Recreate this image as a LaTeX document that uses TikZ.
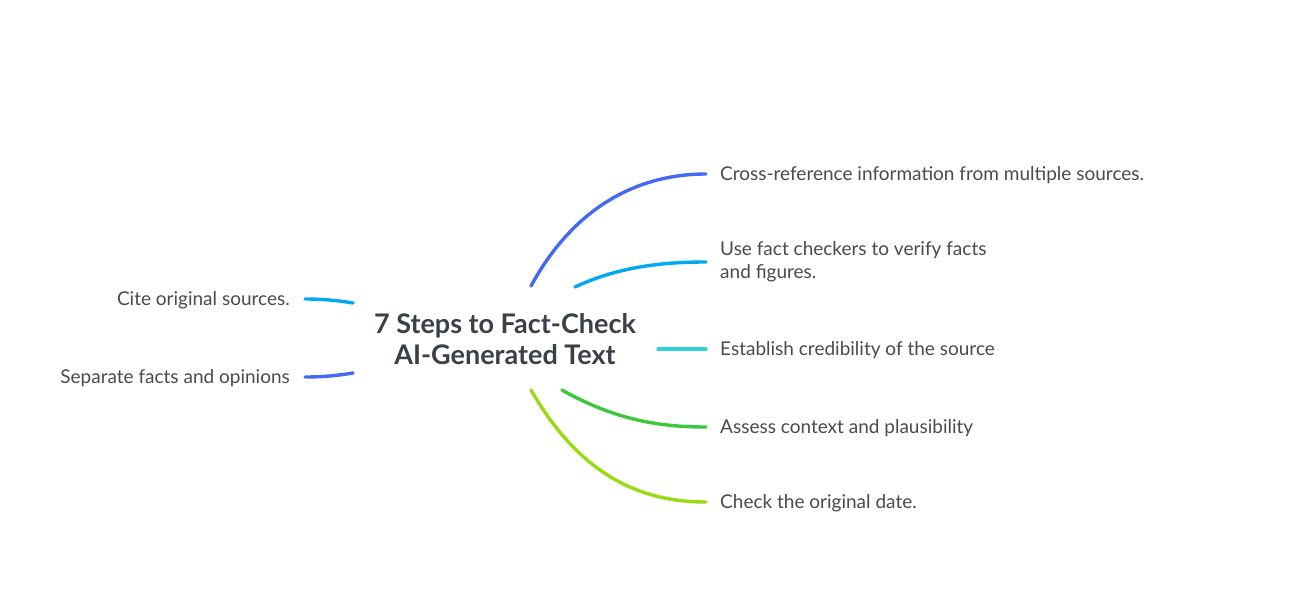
\documentclass[tikz,border=0pt]{standalone}
\usepackage{fontspec}
\setmainfont{Lato}
\usepackage{xcolor}
\definecolor{StepText}{HTML}{4A4A4A}
\definecolor{StepTitle}{HTML}{3B3F47}
\definecolor{StepBlue}{HTML}{4469F2}
\definecolor{StepSky}{HTML}{00A9F4}
\definecolor{StepCyan}{HTML}{2ED3D8}
\definecolor{StepGreen}{HTML}{3CC83C}
\definecolor{StepLime}{HTML}{98DB12}
\tikzset{
  steplabel/.style={text=StepText, font=\fontsize{19pt}{23pt}\selectfont, inner sep=0pt, align=left},
  branch/.style={line width=3.4pt, line cap=round},
}

\begin{document}
\begin{tikzpicture}[x=1pt,y=-1pt]
        \useasboundingbox (0,0) rectangle (1301,597);
        \node[text=StepTitle, font=\bfseries\fontsize{27pt}{31pt}\selectfont, align=center] (title) at (505,339) {7 Steps to Fact-Check\\AI-Generated Text};
        % right side
        \node[steplabel, anchor=west] (crossref) at (720,175) {Cross-reference information from multiple sources.};
        \node[steplabel, anchor=west] (checkers) at (720,262) {Use fact checkers to verify facts\\and figures.};
        \node[steplabel, anchor=west] (credible) at (720,350) {Establish credibility of the source};
        \node[steplabel, anchor=west] (context) at (720,428) {Assess context and plausibility};
        \node[steplabel, anchor=west] (date) at (720,503) {Check the original date.};
        % left side
        \node[steplabel, anchor=east] (cite) at (290,300) {Cite original sources.};
        \node[steplabel, anchor=east] (separate) at (290,378) {Separate facts and opinions};
        % branch roots
        \coordinate (r1) at (531,286);
        \coordinate (r2) at (575,287);
        \coordinate (r3) at (658,349);
        \coordinate (r4) at (562,390);
        \coordinate (r5) at (531,390);
        \coordinate (l1) at (353,303);
        \coordinate (l2) at (353,373);
        \draw[branch, StepBlue] (r1) .. controls (575,205) and (640,174) .. ([shift={(-14pt,1pt)}]crossref.west);
        \draw[branch, StepSky] (r2) .. controls (620,266) and (665,262) .. ([xshift=-14pt]checkers.west);
        \draw[branch, StepCyan] (r3) -- ([shift={(-14pt,1pt)}]credible.west);
        \draw[branch, StepGreen] (r4) .. controls (615,420) and (660,427) .. ([shift={(-14pt,1pt)}]context.west);
        \draw[branch, StepLime] (r5) .. controls (580,475) and (640,502) .. ([shift={(-14pt,1pt)}]date.west);
        \draw[branch, StepSky] (l1) .. controls (335,300) and (320,299) .. ([shift={(15pt,1pt)}]cite.east);
        \draw[branch, StepBlue] (l2) .. controls (335,376) and (320,377) .. ([shift={(15pt,1pt)}]separate.east);
      \end{tikzpicture}
\end{document}
